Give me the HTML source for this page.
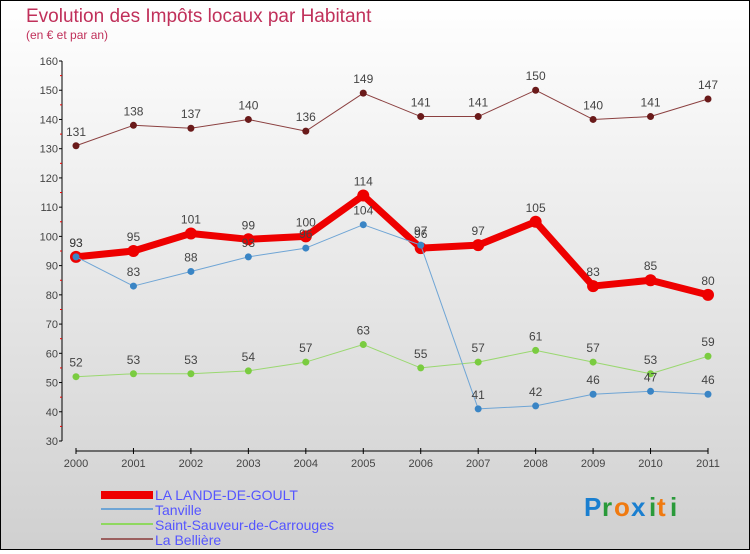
<!DOCTYPE html>
<html><head><meta charset="utf-8"><style>
html,body{margin:0;padding:0}
body{width:750px;height:550px;overflow:hidden;font-family:"Liberation Sans",sans-serif}
#wrap{position:relative;width:748px;height:548px;border:1px solid #000;background:linear-gradient(#ffffff,#d0d0d0)}
</style></head><body>
<div id="wrap">
<svg id="chart" width="748" height="548" xmlns="http://www.w3.org/2000/svg">
<text x="25" y="21" font-size="19" fill="#c0305a">Evolution des Impôts locaux par Habitant</text>
<text x="25" y="38" font-size="12" fill="#c0305a">(en € et par an)</text>
<g id="axes"></g>
<g id="series"></g>
<g>
<rect x="100" y="490" width="52" height="8" fill="#e00"/>
<text x="154" y="499" font-size="14" fill="#5555ff">LA LANDE-DE-GOULT</text>
<line x1="100" y1="508" x2="152" y2="508" stroke="#6fa5d5" stroke-width="2"/>
<text x="154" y="514" font-size="14" fill="#5555ff">Tanville</text>
<line x1="100" y1="523" x2="152" y2="523" stroke="#8fd860" stroke-width="2"/>
<text x="154" y="529" font-size="14" fill="#5555ff">Saint-Sauveur-de-Carrouges</text>
<line x1="100" y1="538" x2="152" y2="538" stroke="#9b6060" stroke-width="2"/>
<text x="154" y="544" font-size="14" fill="#5555ff">La Bellière</text>
</g>
<g font-size="26" font-weight="bold">
<text x="583" y="515" fill="#1a7fd0">P</text><text x="601" y="515" fill="#2a9a3a">r</text><text x="613" y="515" fill="#f07a10">o</text><text x="630" y="515" fill="#1a7fd0">x</text><text x="648" y="515" fill="#2a9a3a">i</text><text x="656" y="515" fill="#f07a10">t</text><text x="669" y="515" fill="#2a9a3a">i</text>
</g>
</svg>
</div>
<script>
const years=["2000","2001","2002","2003","2004","2005","2006","2007","2008","2009","2010","2011"];
const yTicks=[30,40,50,60,70,80,90,100,110,120,130,140,150,160];
const lande=[93,95,101,99,100,114,96,97,105,83,85,80];
const tanville=[93,83,88,93,96,104,97,41,42,46,47,46];
const saintSauveur=[52,53,53,54,57,63,55,57,61,57,53,59];
const belliere=[131,138,137,140,136,149,141,141,150,140,141,147];
const NS="http://www.w3.org/2000/svg";
const xS=i=>75+i*(632/11);
const yS=v=>440-(v-30)*(380/130);
function mk(tag,attrs,parent){const e=document.createElementNS(NS,tag);for(const k in attrs)e.setAttribute(k,attrs[k]);parent.appendChild(e);return e;}
const axes=document.getElementById('axes');
const ya=mk('line',{x1:61,y1:60,x2:61,y2:440,stroke:'#000'},axes);


yTicks.forEach((t,i)=>{
  const y=yS(t);
  mk('line',{x1:58,y1:y,x2:61,y2:y,stroke:'#000'},axes);
  if(i<yTicks.length-1) mk('line',{x1:59,y1:y-14.6,x2:61,y2:y-14.6,stroke:'#e00'},axes);
  const tx=mk('text',{x:57,y:y+4,'font-size':11,fill:'#444','text-anchor':'end'},axes);
  tx.textContent=t;
  
  
});
const xa=mk('line',{x1:75,y1:450,x2:707,y2:450,stroke:'#000'},axes);


years.forEach((yr,i)=>{
  const x=xS(i);
  mk('line',{x1:x,y1:447,x2:x,y2:453,stroke:'#000'},axes);
  const tx=mk('text',{x:x,y:466,'font-size':11,fill:'#444','text-anchor':'middle'},axes);
  tx.textContent=yr;
  
  
});
const sg=document.getElementById('series');
function series(data,name,color,pcolor,w,r,labelColor){
  const g=mk('g',{},sg);
  
  
  mk('polyline',{points:data.map((v,i)=>xS(i)+','+yS(v)).join(' '),fill:'none',stroke:color,'stroke-width':w,'stroke-linejoin':'round'},g);
  data.forEach((v,i)=>{
    const c=mk('circle',{cx:xS(i),cy:yS(v),r:r,fill:pcolor},g);
    
    
    const t=mk('text',{x:xS(i),y:yS(v)-10,'font-size':12,fill:labelColor,'text-anchor':'middle'},g);
    t.textContent=v;
    
    
  });
}
series(saintSauveur,'saint-sauveur-series','#9ad870','#7acc40',1,3.5,'#444');
series(belliere,'belliere-series','#8b4040','#6a1a1a',1,3.5,'#444');
series(lande,'lande-series','#ee0000','#ee0000',7,6,'#444');
series(tanville,'tanville-series','#6fa5d5','#3a85c5',1,3.5,'#444');
</script>
</body></html>
